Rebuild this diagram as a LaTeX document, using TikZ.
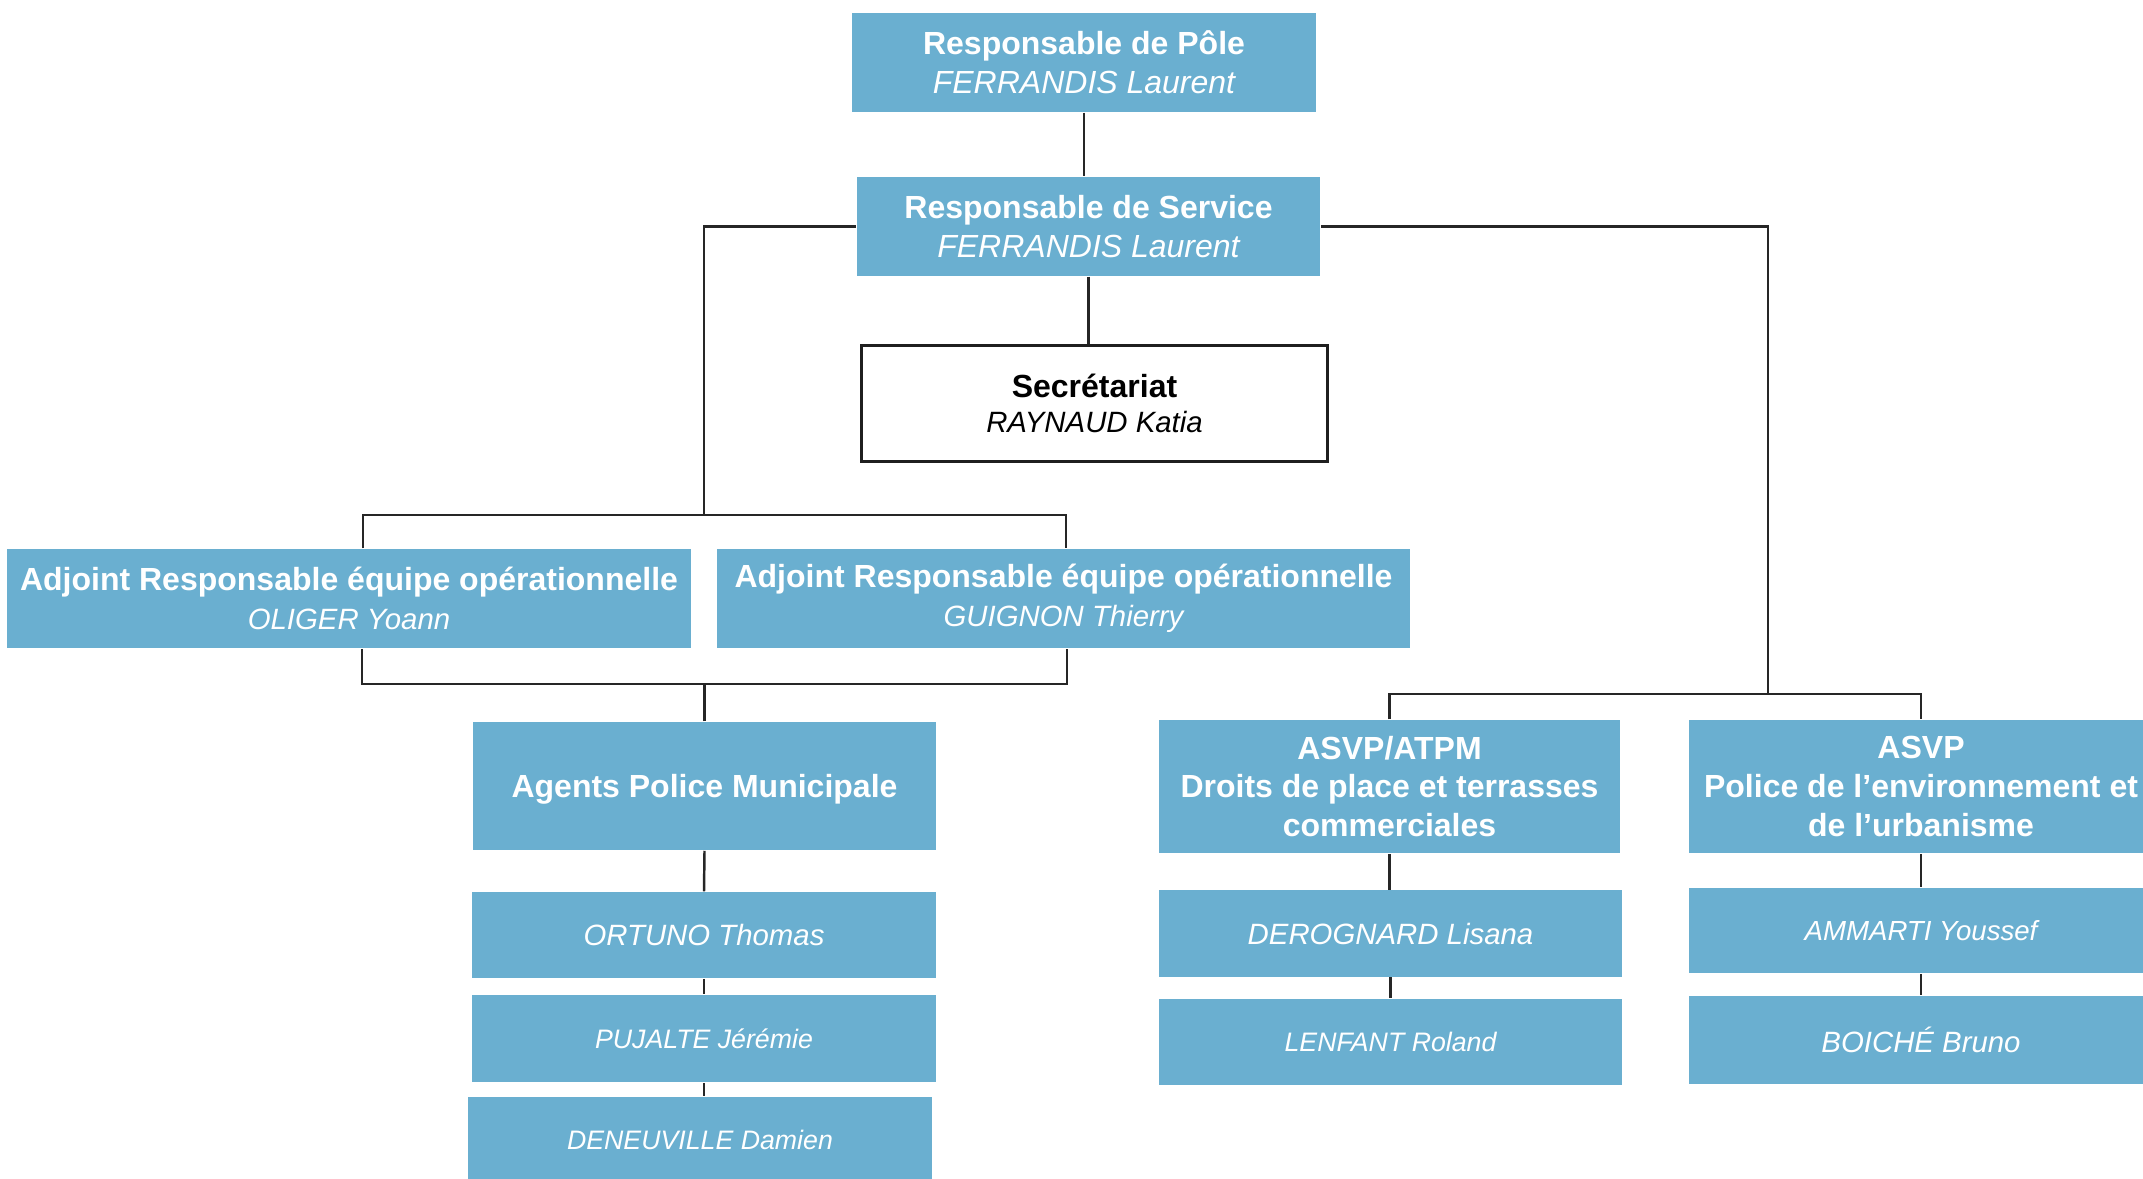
\documentclass[tikz,border=0pt]{standalone}
\usepackage{fontspec}
\setmainfont{Liberation Sans}
\definecolor{boxblue}{RGB}{106,175,208}
\newcommand{\nm}[1]{{\fontsize{8.35}{10}\selectfont\itshape #1}}
\newcommand{\nmbig}[1]{{\fontsize{9.1}{10}\selectfont\itshape #1}}
\newcommand{\nmsmall}[1]{{\fontsize{7.6}{10}\selectfont\itshape #1}}
\tikzset{
  bluebox/.style={rectangle, fill=boxblue, text=white, align=center, inner sep=0pt,
    minimum width=4.63cm, minimum height=0.86cm, font=\fontsize{9.1}{11}\selectfont},
  whitebox/.style={rectangle, draw=black!88, line width=0.85pt, fill=white, align=center,
    inner sep=0pt, minimum width=4.65cm, minimum height=1.15cm, font=\fontsize{9.1}{10}\selectfont},
  link/.style={draw=black!85, line width=0.7pt}
}
\begin{document}
\begin{tikzpicture}[x=0.01cm,y=-0.01cm]
\useasboundingbox (0,0) rectangle (2143,1178);
\node[bluebox, minimum width=4.64cm, minimum height=0.99cm] (pole) at (1084,62.5) {\textbf{Responsable de Pôle}\\ \nmbig{FERRANDIS Laurent}};
\node[bluebox, minimum height=0.99cm] (service) at (1088.5,226.5) {\textbf{Responsable de Service}\\ \nmbig{FERRANDIS Laurent}};
\node[whitebox] (secretariat) at (1094.5,403.5) {\textbf{Secrétariat}\\ \nm{RAYNAUD Katia}};
\node[bluebox, minimum width=6.83cm, minimum height=0.99cm] (adjA) at (349,598.5) {\textbf{Adjoint Responsable équipe opérationnelle}\\ \nm{OLIGER Yoann}};
\node[bluebox, minimum width=6.93cm, minimum height=0.99cm] (adjB) at (1063.5,598.5) {\textbf{Adjoint Responsable équipe opérationnelle}\\ \nm{GUIGNON Thierry}};
\node[bluebox, minimum height=1.28cm, text depth=0pt] (agents) at (704.5,786) {\textbf{Agents Police Municipale}};
\node[bluebox, minimum width=4.64cm] (ortuno) at (704,935) {\nm{ORTUNO Thomas}};
\node[bluebox, minimum width=4.64cm, minimum height=0.87cm] (pujalte) at (704,1038.5) {\nmsmall{PUJALTE Jérémie}};
\node[bluebox, minimum width=4.64cm] (deneuville) at (700,1140) {\nmsmall{DENEUVILLE Damien}};
\node[bluebox, minimum width=4.61cm, minimum height=1.33cm] (asvpatpm) at (1389.5,786.5) {\textbf{ASVP/ATPM}\\ \textbf{Droits de place et terrasses}\\ \textbf{commerciales}};
\node[bluebox, minimum height=1.33cm] (asvp) at (1921,786.5) {\textbf{ASVP}\\ \textbf{Police de l’environnement et}\\ \textbf{de l’urbanisme}};
\node[bluebox] (derognard) at (1390.5,933.5) {\nm{DEROGNARD Lisana}};
\node[bluebox] (lenfant) at (1390.5,1042) {\nmsmall{LENFANT Roland}};
\node[bluebox, minimum height=0.85cm] (ammarti) at (1921,930.5) {{\fontsize{7.85}{10}\selectfont\itshape AMMARTI Youssef}};
\node[bluebox, minimum height=0.88cm] (boiche) at (1921,1040) {\nm{BOICHÉ Bruno}};
\coordinate (topM) at (704,515);
\coordinate (topL) at (363,515);
\coordinate (topR) at (1066,515);
\coordinate (botL) at (362,684);
\coordinate (botR) at (1067,684);
\coordinate (rightM) at (1768,694);
\draw[link] (pole.south) -- (pole.south |- service.north);
\draw[link] (service.south) -- (service.south |- secretariat.north);
\draw[link] (service.west) -| (topM);
\draw[link] (topL |- adjA.north) -- (topL) -- (topR) -- (topR |- adjB.north);
\draw[link] (botL |- adjA.south) -- (botL) -- (botR) -- (botR |- adjB.south);
\draw[link] (agents.north) -- (agents.north |- botL);
\draw[link] (agents.south) -- (ortuno.north);
\draw[link] (ortuno.south) -- (pujalte.north);
\draw[link] (pujalte.south) -- (pujalte.south |- deneuville.north);
\draw[link] (service.east) -| (rightM);
\draw[link] (asvpatpm.north) -- (asvpatpm.north |- rightM) -- (asvp.north |- rightM) -- (asvp.north);
\draw[link] (asvpatpm.south) -- (asvpatpm.south |- derognard.north);
\draw[link] (derognard.south) -- (derognard.south |- lenfant.north);
\draw[link] (asvp.south) -- (ammarti.north);
\draw[link] (ammarti.south) -- (boiche.north);
\end{tikzpicture}
\end{document}
